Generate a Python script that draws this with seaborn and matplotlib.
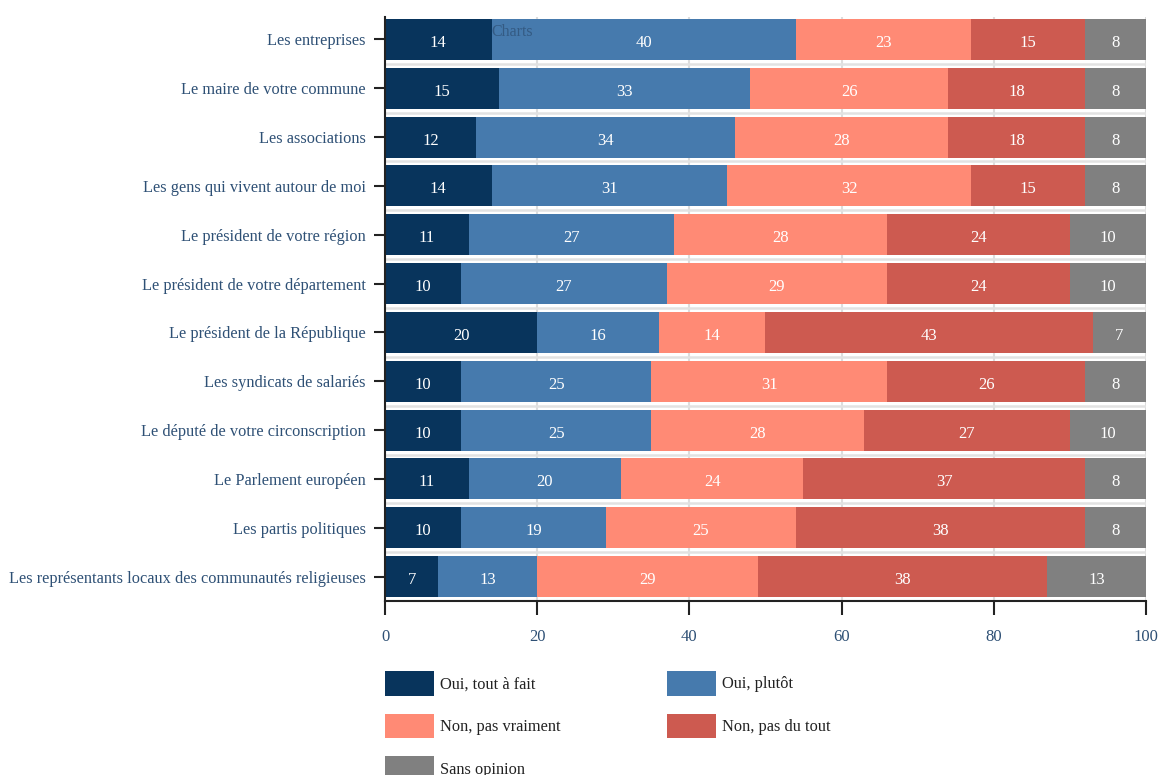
import matplotlib
matplotlib.use("Agg")
import matplotlib.pyplot as plt
import seaborn as sns
import pandas as pd

categories = [
    "Les entreprises",
    "Le maire de votre commune",
    "Les associations",
    "Les gens qui vivent autour de moi",
    "Le président de votre région",
    "Le président de votre département",
    "Le président de la République",
    "Les syndicats de salariés",
    "Le député de votre circonscription",
    "Le Parlement européen",
    "Les partis politiques",
    "Les représentants locaux des communautés religieuses",
]
oui_tout_a_fait = [14, 15, 12, 14, 11, 10, 20, 10, 10, 11, 10, 7]
oui_plutot = [40, 33, 34, 31, 27, 27, 16, 25, 25, 20, 19, 13]
non_pas_vraiment = [23, 26, 28, 32, 28, 29, 14, 31, 28, 24, 25, 29]
non_pas_du_tout = [15, 18, 18, 15, 24, 24, 43, 26, 27, 37, 38, 38]
sans_opinion = [8, 8, 8, 8, 10, 10, 7, 8, 10, 8, 8, 13]

series_names = ["Oui, tout à fait", "Oui, plutôt", "Non, pas vraiment", "Non, pas du tout", "Sans opinion"]
colors = ["#08345c", "#467aad", "#ff8a75", "#cd5a50", "#808080"]

df = pd.DataFrame({
    "categorie": categories,
    series_names[0]: oui_tout_a_fait,
    series_names[1]: oui_plutot,
    series_names[2]: non_pas_vraiment,
    series_names[3]: non_pas_du_tout,
    series_names[4]: sans_opinion,
})
cum = df[series_names].cumsum(axis=1)

sns.set_theme(style="white")
plt.rcParams["font.family"] = ["Liberation Serif", "DejaVu Serif"]

fig = plt.figure(figsize=(11.58, 7.75), dpi=100)
ax = fig.add_axes([0.3325, 0.2245, 0.657, 0.753])

# stacked bars: draw cumulative totals from the longest to the shortest
for name, col in reversed(list(zip(series_names, colors))):
    sns.barplot(x=cum[name], y=df["categorie"], color=col, width=0.84,
                orient="h", ax=ax, saturation=1, label=name, linewidth=0)

# value labels in the middle of each segment
for i in range(len(categories)):
    start = 0
    for name in series_names:
        v = df[name][i]
        ax.text(start + v / 2, i + 0.07, str(v), ha="center", va="center",
                color="white", fontsize=12)
        start += v

ax.set_xlim(0, 100)
ax.set_ylim(11.5, -0.45)
ax.set_xticks([0, 20, 40, 60, 80, 100])
ax.set_xlabel("")
ax.set_ylabel("")
for x in [20, 40, 60, 80, 100]:
    ax.axvline(x, color="#dddddd", lw=1.5, zorder=0)
for i in range(len(categories)):
    ax.axhline(i + 0.5, color="#e2e2e2", lw=1.8, zorder=0)

for s in ["top", "right"]:
    ax.spines[s].set_visible(False)
ax.spines["left"].set_color("#222222")
ax.spines["bottom"].set_color("#222222")
ax.spines["left"].set_linewidth(1.5)
ax.spines["bottom"].set_linewidth(1.5)
ax.tick_params(axis="y", length=8, width=1.5, color="#222222", labelsize=11.8,
               labelcolor="#2e5075", pad=6, left=True)
ax.tick_params(axis="x", length=10, width=1.5, color="#222222", labelsize=12,
               labelcolor="#2e5075", pad=10, bottom=True, direction="out")

ax.text(14.0, -0.15, "Charts", color="#2e5075", alpha=0.75, fontsize=11.5,
        ha="left", va="center")

if ax.get_legend():
    ax.get_legend().remove()
handles, labels = ax.get_legend_handles_labels()
hmap = dict(zip(labels, handles))
order = [series_names[0], series_names[2], series_names[4], series_names[1], series_names[3]]
fig.legend([hmap[n] for n in order], order, loc="upper left",
           bbox_to_anchor=(0.325, 0.145), ncol=2, frameon=False,
           fontsize=11.8, handlelength=3.0, handleheight=1.95,
           handletextpad=0.4, labelspacing=1.1, columnspacing=6.45,
           borderpad=0, labelcolor="#222222")

fig.savefig("out.png", dpi=100)
